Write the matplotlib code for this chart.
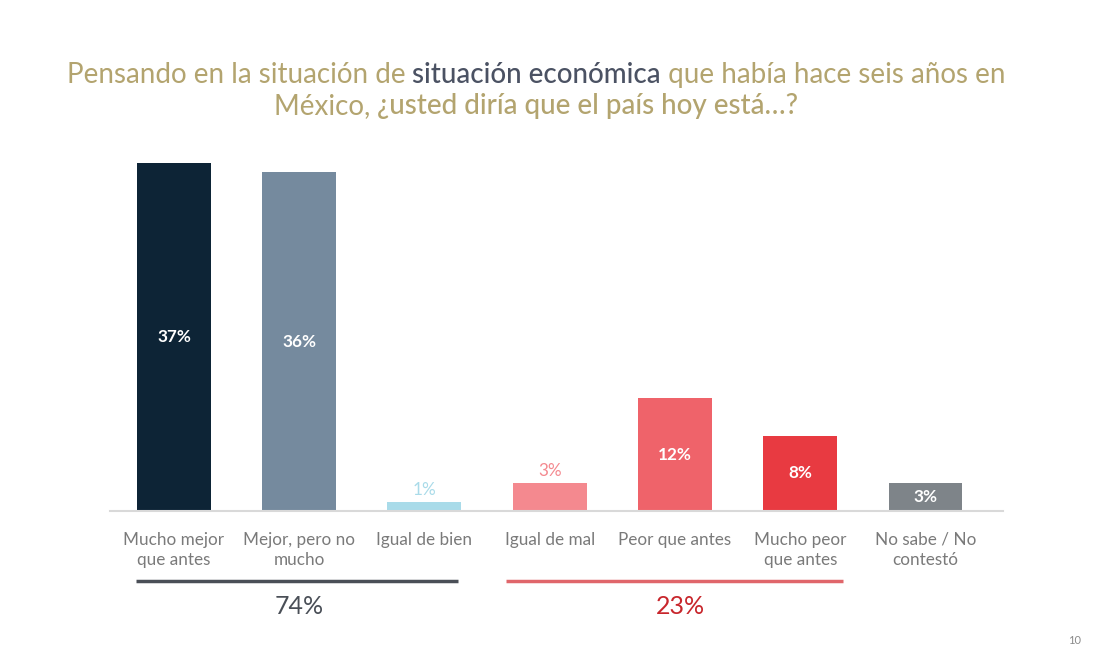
import matplotlib
matplotlib.use("Agg")
import matplotlib.pyplot as plt
import matplotlib.transforms as mtrans

categories = ["Mucho mejor\nque antes", "Mejor, pero no\nmucho", "Igual de bien",
              "Igual de mal", "Peor que antes", "Mucho peor\nque antes", "No sabe / No\ncontestó"]
values = [37, 36, 1, 3, 12, 8, 3]
labels = ["37%", "36%", "1%", "3%", "12%", "8%", "3%"]
colors = ["#0d2436", "#758a9e", "#a9dbe9", "#f4898f", "#ef636a", "#e83a41", "#7e8489"]
label_inside = [True, True, False, False, True, True, True]
label_colors = ["white", "white", "#a9dbe9", "#f4898f", "white", "white", "white"]
group_totals = ["74%", "23%"]

FONT = "Lato"
fig = plt.figure(figsize=(11.06, 6.67), dpi=100)
ax = fig.add_axes([0.0995, 0.2339, 0.8075, 0.5217])
x = list(range(len(values)))
ax.bar(x, values, width=0.59, color=colors, zorder=2)
ax.set_xlim(-0.51, 6.62)
ax.set_ylim(0, 37)
for s in ["top", "right", "left"]:
    ax.spines[s].set_visible(False)
ax.spines["bottom"].set_color("#d9d9d9")
ax.spines["bottom"].set_linewidth(1.5)
ax.set_yticks([])
ax.set_xticks(x)
ax.set_xticklabels(categories, fontsize=12.3, color="#7a7a7a", family=FONT, linespacing=1.35)
ax.tick_params(axis="x", length=0, pad=15)

for i, (v, lab) in enumerate(zip(values, labels)):
    if label_inside[i]:
        ax.text(i, v / 2, lab, ha="center", va="center", color="white", fontsize=12.3,
                fontweight="bold", family=FONT)
    else:
        ax.text(i, v + 1.25, lab, ha="center", va="center", color=label_colors[i], fontsize=12.3,
                family=FONT)

# group brackets
trans = mtrans.blended_transform_factory(ax.transData, fig.transFigure)
yline = 1 - 581 / 667
ax.plot([-0.30, 2.27], [yline, yline], transform=trans, color="#4a4f57", lw=2.5,
        clip_on=False, solid_capstyle="butt")
ax.plot([2.65, 5.34], [yline, yline], transform=trans, color="#e0666b", lw=2.5,
        clip_on=False, solid_capstyle="butt")
ytot = 1 - 607 / 667
ax.text(1.0, ytot, group_totals[0], transform=trans, ha="center", va="center",
        fontsize=18, color="#4a4f57", family=FONT)
ax.text(4.04, ytot, group_totals[1], transform=trans, ha="center", va="center",
        fontsize=18, color="#c8262c", family=FONT)

fig.text(1075 / 1106, 1 - 641 / 667, "10", fontsize=8, color="#8a8a8a", ha="center",
         va="center", family=FONT)

# title with mixed styles
gold = "#b3a46f"
dark = "#4b5263"
lines = [
    [("Pensando en la situación de ", gold, "normal"),
     ("situación económica", dark, "medium"),
     (" que había hace seis años en", gold, "normal")],
    [("México, ", gold, "normal"),
     ("¿usted diría que el país hoy está…?", gold, "medium")],
]
ys = [1 - 75 / 667, 1 - 106 / 667]
cx = 536 / 1106
renderer = fig.canvas.get_renderer()
TS = 20
for segs, yy in zip(lines, ys):
    texts = []
    widths = []
    for s, c, w in segs:
        t = fig.text(0, yy, s, color=c, fontsize=TS, fontweight=w, family=FONT,
                     va="center", ha="left")
        bb = t.get_window_extent(renderer=renderer)
        texts.append(t)
        widths.append(bb.width / fig.bbox.width)
    total = sum(widths)
    xs = cx - total / 2
    for t, wdt in zip(texts, widths):
        t.set_x(xs)
        xs += wdt

fig.savefig("out.png", dpi=100, facecolor="white")
